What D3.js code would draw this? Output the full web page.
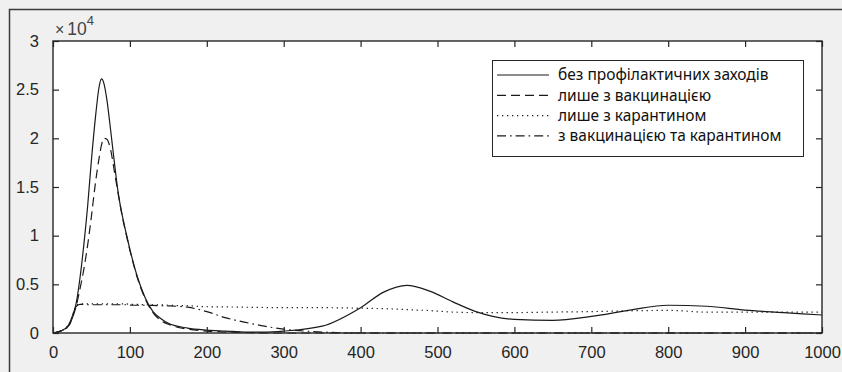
<!DOCTYPE html>
<html>
<head>
<meta charset="utf-8">
<script src="https://cdn.jsdelivr.net/npm/d3@7"></script>
<style>
  html, body { margin: 0; padding: 0; background: #f0f0f0; }
  svg { display: block; }
</style>
</head>
<body>
<div id="chart"></div>
<script>
// time grid (days) and the four series, in units of 10^4
const days = [0, 10, 20, 25, 30, 35, 40, 45, 50, 55, 60, 63, 66, 70, 75, 80, 85, 90, 95, 100,
  110, 120, 130, 140, 150, 175, 200, 225, 250, 275, 300, 350, 400, 430, 460, 490, 520, 550,
  600, 650, 700, 750, 800, 850, 900, 950, 1000];

const noMeasures = [0, 0.02, 0.08, 0.17, 0.3, 0.56, 0.9, 1.3, 1.78, 2.2, 2.53, 2.61, 2.57, 2.4, 2.08, 1.74, 1.43, 1.21, 1.03, 0.86,
  0.57, 0.36, 0.22, 0.15, 0.1, 0.05, 0.03, 0.02, 0.01, 0.01, 0.02, 0.07, 0.26, 0.42, 0.49, 0.43, 0.32, 0.22,
  0.14, 0.13, 0.17, 0.235, 0.285, 0.275, 0.235, 0.21, 0.185];

const vaccOnly = [0, 0.02, 0.07, 0.15, 0.27, 0.45, 0.65, 0.9, 1.2, 1.53, 1.8, 1.93, 2.0, 1.99, 1.88, 1.65, 1.42, 1.2, 1.02, 0.85,
  0.56, 0.35, 0.21, 0.13, 0.09, 0.04, 0.02, 0.01, 0.005, 0, 0, 0, 0, 0, 0, 0, 0, 0,
  0, 0, 0, 0, 0, 0, 0, 0, 0];

const quarOnly = [0, 0.02, 0.08, 0.17, 0.28, 0.3, 0.3, 0.3, 0.3, 0.3, 0.3, 0.3, 0.3, 0.3, 0.3, 0.3, 0.3, 0.3, 0.3, 0.295,
  0.295, 0.29, 0.29, 0.29, 0.285, 0.28, 0.27, 0.268, 0.265, 0.262, 0.26, 0.26, 0.255, 0.25, 0.24, 0.23, 0.215, 0.21,
  0.21, 0.215, 0.22, 0.228, 0.232, 0.215, 0.215, 0.215, 0.215];

const vaccQuar = [0, 0.02, 0.07, 0.15, 0.27, 0.295, 0.295, 0.29, 0.29, 0.29, 0.29, 0.29, 0.29, 0.29, 0.29, 0.29, 0.29, 0.29, 0.29, 0.287,
  0.285, 0.285, 0.283, 0.28, 0.278, 0.265, 0.22, 0.155, 0.11, 0.07, 0.04, 0.01, 0, 0, 0, 0, 0, 0,
  0, 0, 0, 0, 0, 0, 0, 0, 0];

const labels = ["без профілактичних заходів", "лише з вакцинацією", "лише з карантином", "з вакцинацією та карантином"];
const xTicks = [0, 100, 200, 300, 400, 500, 600, 700, 800, 900, 1000];
const yTicks = [0, 0.5, 1, 1.5, 2, 2.5, 3];

const W = 842, H = 372;
const plot = { left: 53, top: 41, right: 822, bottom: 333 };
const ink = "#262626";

const svg = d3.select("#chart").append("svg")
  .attr("width", W)
  .attr("height", H);

// window frame (top + left edge)
svg.append("path")
  .attr("d", `M9.5,${H} V9.5 H${W}`)
  .attr("fill", "none")
  .attr("stroke", "#3a3a3a")
  .attr("stroke-width", 1.5);

svg.append("rect")
  .attr("x", plot.left).attr("y", plot.top)
  .attr("width", plot.right - plot.left)
  .attr("height", plot.bottom - plot.top)
  .attr("fill", "#fff");

const x = d3.scaleLinear().domain([0, 1000]).range([plot.left, plot.right]);
const y = d3.scaleLinear().domain([0, 3]).range([plot.bottom, plot.top]);

const series = [
  { values: noMeasures, dash: null },
  { values: vaccOnly, dash: "9,5" },
  { values: quarOnly, dash: "1.3,3.7" },
  { values: vaccQuar, dash: "9,4,1.6,4" }
];

const line = d3.line()
  .x(d => x(d[0]))
  .y(d => y(d[1]))
  .curve(d3.curveMonotoneX);

// draw the quarantine curves first so the solid curve stays on top
[3, 2, 1, 0].forEach(i => {
  const s = series[i];
  svg.append("path")
    .datum(days.map((t, k) => [t, s.values[k]]))
    .attr("fill", "none")
    .attr("stroke", "#1a1a1a")
    .attr("stroke-width", 1.2)
    .attr("stroke-dasharray", s.dash)
    .attr("d", line);
});

// axes: ticks point inward, box drawn separately
function styleAxis(g) {
  g.select(".domain").remove();
  g.selectAll(".tick line").attr("stroke", ink).attr("stroke-width", 1.2);
  g.selectAll(".tick text")
    .attr("fill", ink)
    .style("font-family", "'Liberation Sans', Arial, sans-serif")
    .style("font-size", "16.5px");
}

svg.append("g")
  .attr("transform", `translate(0,${plot.bottom})`)
  .call(d3.axisBottom(x).tickValues(xTicks).tickFormat(d3.format("d")).tickSizeInner(-6).tickSizeOuter(0).tickPadding(13))
  .call(styleAxis);

svg.append("g")
  .attr("transform", `translate(0,${plot.top})`)
  .call(d3.axisTop(x).tickValues(xTicks).tickFormat("").tickSizeInner(-6).tickSizeOuter(0))
  .call(styleAxis);

svg.append("g")
  .attr("transform", `translate(${plot.left},0)`)
  .call(d3.axisLeft(y).tickValues(yTicks).tickFormat(d => String(d)).tickSizeInner(-6).tickSizeOuter(0).tickPadding(14))
  .call(styleAxis);

svg.append("g")
  .attr("transform", `translate(${plot.right},0)`)
  .call(d3.axisRight(y).tickValues(yTicks).tickFormat("").tickSizeInner(-6).tickSizeOuter(0))
  .call(styleAxis);

svg.append("rect")
  .attr("x", plot.left).attr("y", plot.top)
  .attr("width", plot.right - plot.left)
  .attr("height", plot.bottom - plot.top)
  .attr("fill", "none")
  .attr("stroke", ink)
  .attr("stroke-width", 1.4);

// exponent label
const expo = svg.append("text")
  .attr("x", plot.left + 2)
  .attr("y", 35)
  .attr("fill", "#444")
  .style("font-family", "'Liberation Sans', Arial, sans-serif")
  .style("font-size", "17.5px");
expo.append("tspan").text("\u00d7").style("font-size", "16px");
expo.append("tspan").attr("dx", 3).text("10");
expo.append("tspan").attr("dy", -10).style("font-size", "13px").text("4");

// legend
const legend = svg.append("g");
legend.append("rect")
  .attr("x", 492.5).attr("y", 60.5)
  .attr("width", 311).attr("height", 96)
  .attr("fill", "#fff")
  .attr("stroke", ink)
  .attr("stroke-width", 1);

labels.forEach((label, i) => {
  const cy = 75 + i * 20.3;
  legend.append("line")
    .attr("x1", 497).attr("x2", 549)
    .attr("y1", cy).attr("y2", cy)
    .attr("stroke", "#1a1a1a")
    .attr("stroke-width", 1.2)
    .attr("stroke-dasharray", series[i].dash);
  legend.append("text")
    .attr("x", 558)
    .attr("y", cy)
    .attr("dy", "0.35em")
    .attr("fill", "#111")
    .style("font-family", "'Noto Sans', sans-serif")
    .style("font-size", "15.5px")
    .text(label);
});
</script>
</body>
</html>
